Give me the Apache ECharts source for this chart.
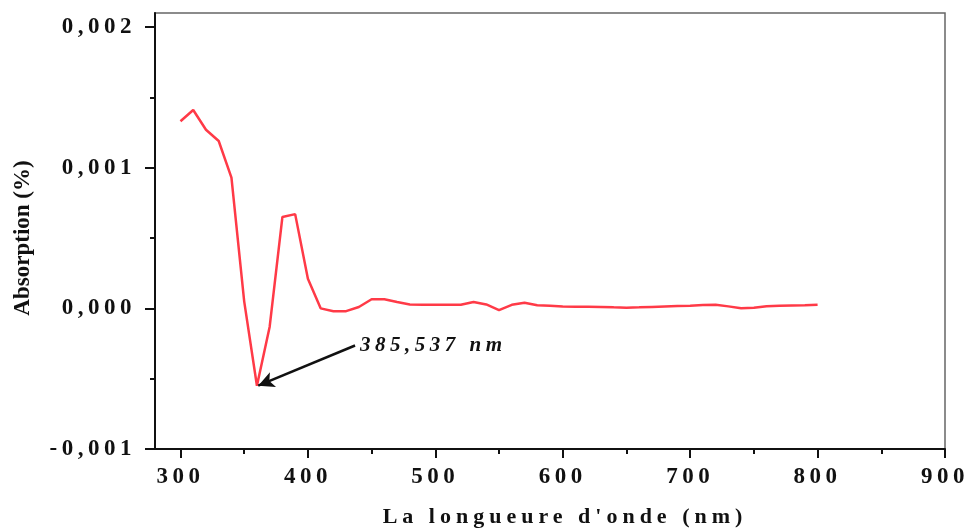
<!DOCTYPE html>
<html><head><meta charset="utf-8">
<script src="https://cdn.jsdelivr.net/npm/echarts@6/dist/echarts.min.js"></script>
<style>html,body{margin:0;padding:0;background:#fff}#c{width:972px;height:530px}</style>
</head><body><div id="c"></div>
<script>
const wavelengths = [300,310,320,330,340,350,360,370,380,390,400,410,420,430,440,450,460,470,480,490,500,510,520,530,540,550,560,570,580,590,600,610,620,630,640,650,660,670,680,690,700,710,720,730,740,750,760,770,780,790,800];
const absorption = [1.33,1.41,1.27,1.19,0.93,0.05,-0.55,-0.13,0.65,0.67,0.21,0.00,-0.02,-0.02,0.01,0.065,0.065,0.045,0.028,0.026,0.026,0.026,0.026,0.045,0.028,-0.012,0.025,0.040,0.022,0.018,0.014,0.012,0.011,0.010,0.007,0.005,0.007,0.010,0.013,0.016,0.018,0.024,0.026,0.014,0.000,0.004,0.015,0.018,0.020,0.022,0.026].map(v => v / 1000);
const xTicks = [300,400,500,600,700,800,900];
const xMinorTicks = [350,450,550,650,750,850];
const yTicks = [-0.001,0,0.001,0.002];
const yMinorTicks = [-0.0005,0.0005,0.0015];
const annotationText = '385,537 nm';
const annotationFrom = [437, -0.000264];
const annotationTo = [361, -0.00055];

// The reference typesetting is widely tracked; apply canvas letter spacing to the
// tracked font (plain 'Liberation Serif'), keep the axis-name font with fallback untracked.
(function () {
  const P = CanvasRenderingContext2D.prototype;
  const setSpacing = ctx => {
    if ('letterSpacing' in ctx) {
      const f = ctx.font;
      let s = '0px';
      if (!/,\s*serif/.test(f) && /Liberation Serif/.test(f)) s = /\b22px/.test(f) ? '5px' : '4.5px';
      ctx.letterSpacing = s;
    }
  };
  const ft = P.fillText, st = P.strokeText, mt = P.measureText;
  P.fillText = function () { setSpacing(this); return ft.apply(this, arguments); };
  P.strokeText = function () { setSpacing(this); return st.apply(this, arguments); };
  P.measureText = function () { setSpacing(this); return mt.apply(this, arguments); };
})();

const font = 'Liberation Serif';
const fontPlain = "'Liberation Serif', serif";
const chart = echarts.init(document.getElementById('c'));
const fmt = v => v.toFixed(3).replace('.', ',');
const axisLine = {show: true, onZero: false, lineStyle: {color: '#111', width: 2}};
chart.setOption({
  animation: false,
  grid: {left: 155, right: 27, top: 13, bottom: 81, outerBoundsMode: 'none', containLabel: false, show: true, borderColor: '#666', borderWidth: 1.5, backgroundColor: 'transparent'},
  xAxis: [{
    type: 'value', min: 280, max: 900,
    axisLine: axisLine,
    axisTick: {show: true, customValues: xTicks, length: 9, lineStyle: {color: '#111', width: 2}},
    axisLabel: {customValues: xTicks, formatter: v => String(v), fontFamily: font, fontWeight: 'bold', fontSize: 23, color: '#111', margin: 14},
    splitLine: {show: false},
    name: "La longueure d'onde (nm)", nameLocation: 'middle', nameGap: 55,
    nameTextStyle: {fontFamily: font, fontWeight: 'bold', fontSize: 22, color: '#111', padding: [0, 0, 0, 30]}
  }, {
    type: 'value', min: 280, max: 900, position: 'bottom',
    axisLine: {show: false, onZero: false},
    axisTick: {show: true, customValues: xMinorTicks, length: 5, lineStyle: {color: '#111', width: 2}},
    axisLabel: {show: false}, splitLine: {show: false}
  }],
  yAxis: [{
    type: 'value', min: -0.001, max: 0.0021,
    axisLine: axisLine,
    axisTick: {show: true, customValues: yTicks, length: 10, lineStyle: {color: '#111', width: 2}},
    axisLabel: {customValues: yTicks, formatter: fmt, fontFamily: font, fontWeight: 'bold', fontSize: 23, color: '#111', margin: 19},
    splitLine: {show: false},
    name: 'Absorption (%)', nameLocation: 'middle', nameGap: 120, nameRotate: 90,
    nameTextStyle: {fontFamily: fontPlain, fontWeight: 'bold', fontSize: 23, color: '#111', padding: [0, 14, 0, 0]}
  }, {
    type: 'value', min: -0.001, max: 0.0021, position: 'left',
    axisLine: {show: false, onZero: false},
    axisTick: {show: true, customValues: yMinorTicks, length: 5, lineStyle: {color: '#111', width: 2}},
    axisLabel: {show: false}, splitLine: {show: false}
  }],
  series: [{
    type: 'line',
    data: wavelengths.map((w, i) => [w, absorption[i]]),
    showSymbol: false, symbol: 'none',
    lineStyle: {color: '#ff3a47', width: 2.5},
    markLine: {
      silent: true, symbol: ['none', 'arrow'], symbolSize: [12, 16],
      lineStyle: {color: '#111', width: 2.5, type: 'solid'},
      label: {show: false},
      data: [[{coord: annotationFrom}, {coord: annotationTo}]]
    },
    markPoint: {
      silent: true, symbol: 'circle', symbolSize: 0,
      label: {show: true, position: 'right', distance: 5, formatter: annotationText, fontFamily: font, fontWeight: 'bold', fontStyle: 'italic', fontSize: 21, color: '#111'},
      data: [{coord: annotationFrom}]
    }
  }]
});
</script></body></html>
